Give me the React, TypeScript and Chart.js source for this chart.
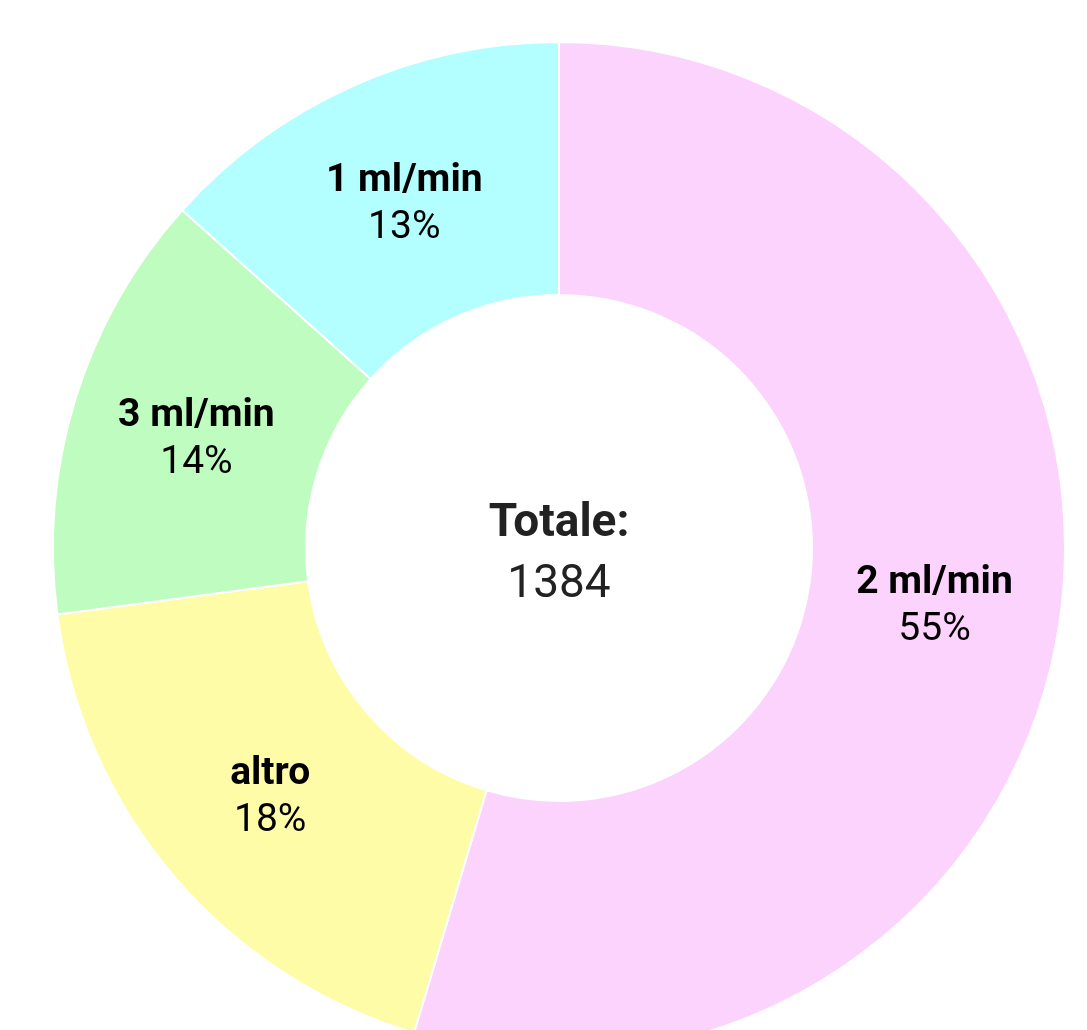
import React, { useEffect, useRef } from "react";
import { Chart, registerables } from "chart.js";

Chart.register(...registerables);

const categories = ["2 ml/min", "altro", "3 ml/min", "1 ml/min"];
const counts = [756, 253, 190, 185];
const colors = ["#FCD3FC", "#FFFCA8", "#BFFCBF", "#B3FFFF"];
const totalLabel = "Totale:";

const FONT = "Roboto, 'Noto Sans', sans-serif";

const labelPlugin = {
  id: "sliceLabels",
  afterDraw(chart: any) {
    const ctx = chart.ctx;
    const meta = chart.getDatasetMeta(0);
    const data = chart.data.datasets[0].data as number[];
    const total = data.reduce((a, b) => a + b, 0);
    ctx.save();
    ctx.textAlign = "center";
    ctx.textBaseline = "alphabetic";
    meta.data.forEach((arc: any, i: number) => {
      const p = arc.getCenterPoint();
      const pct = Math.round((data[i] / total) * 100) + "%";
      ctx.fillStyle = "#000";
      ctx.font = `bold 39px ${FONT}`;
      ctx.fillText(chart.data.labels[i], p.x, p.y - 10);
      ctx.font = `39px ${FONT}`;
      ctx.fillText(pct, p.x, p.y + 37);
    });
    const first = meta.data[0] as any;
    const cx = first.x;
    const cy = first.y;
    ctx.fillStyle = "#222";
    ctx.font = `bold 46px ${FONT}`;
    ctx.fillText(totalLabel, cx, cy - 12);
    ctx.font = `46px ${FONT}`;
    ctx.fillText(String(total), cx, cy + 49);
    ctx.restore();
  },
};

export default function App() {
  const ref = useRef<HTMLCanvasElement | null>(null);
  useEffect(() => {
    document.body.style.margin = "0";
    if (!ref.current) return;
    const chart = new Chart(ref.current, {
      type: "doughnut",
      data: {
        labels: categories,
        datasets: [
          {
            data: counts,
            backgroundColor: colors,
            borderColor: "#ffffff",
            borderWidth: 2,
          },
        ],
      },
      options: {
        responsive: false,
        animation: false,
        cutout: "50%",
        layout: { padding: { left: 51, right: 20, top: 41, bottom: 25 } },
        plugins: {
          legend: { display: false },
          tooltip: { enabled: false },
        },
      },
      plugins: [labelPlugin],
    });
    return () => chart.destroy();
  }, []);
  return (
    <div style={{ width: 1087, height: 1030, overflow: "hidden", position: "relative", background: "#fff" }}>
      <canvas ref={ref} width={1087} height={1080} style={{ display: "block" }} />
    </div>
  );
}
